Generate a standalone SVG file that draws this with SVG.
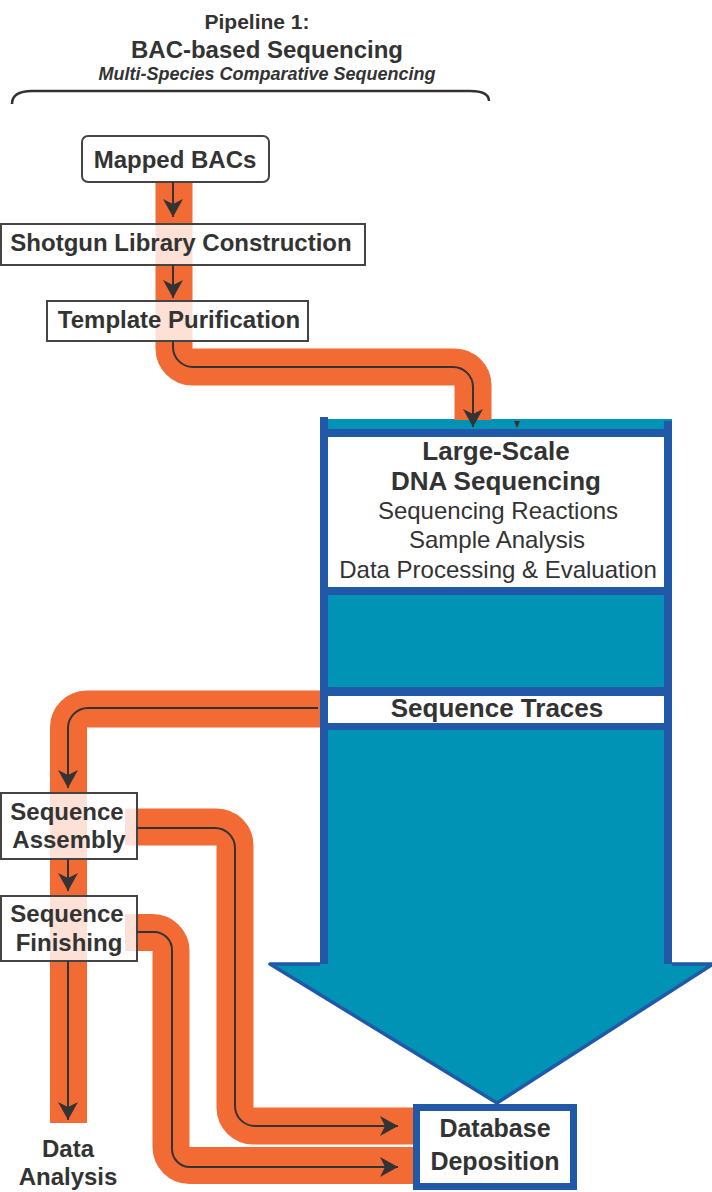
<svg xmlns="http://www.w3.org/2000/svg" width="712" height="1192" viewBox="0 0 712 1192">
<defs>
<style>
text{font-family:"Liberation Sans",Arial,sans-serif;fill:#333;text-anchor:middle}
.b{font-weight:bold}
.lbl{font-size:24px;font-weight:bold}
.reg{font-size:24px}
.box{fill:#fff;fill-opacity:0.8;stroke:#444;stroke-width:2}
.band{fill:none;stroke:#f26b35;stroke-width:37}
.ln{fill:none;stroke:#333;stroke-width:2}
.teal{fill:#0093b5}
.blue{fill:#2159a8}
</style>
<marker id="ah" viewBox="0 0 18 20" refX="18" refY="10" markerWidth="18" markerHeight="20" markerUnits="userSpaceOnUse" orient="auto">
<path d="M0,0 L18,10 L0,20 L5,10 Z" fill="#333"/>
</marker>
</defs>
<rect width="712" height="1192" fill="#fff"/>

<g id="title">
<text x="257" y="29" class="b" font-size="21">Pipeline 1:</text>
<text x="267" y="58" class="b" font-size="24">BAC-based Sequencing</text>
<text x="267" y="80" class="b" font-size="18" font-style="italic">Multi-Species Comparative Sequencing</text>
<path d="M12,104 Q12,91 32,91 L470,91 Q489,91 489,101" fill="none" stroke="#333" stroke-width="2.5"/>
</g>

<g id="large-scale-sequencing">
<polygon points="270,964 713,964 497,1103" class="teal" stroke="#2159a8" stroke-width="3.5" stroke-linejoin="round"/>
<rect x="320" y="419" width="352" height="549" class="teal"/>
<rect x="320" y="429" width="352" height="301" class="blue"/>
<rect x="328" y="595" width="336" height="92" class="teal"/>
<rect x="328" y="437" width="336" height="150" fill="#fff"/>
<rect x="328" y="696" width="336" height="27" fill="#fff"/>
<rect x="320" y="417" width="8" height="547" class="blue"/>
<rect x="664" y="421" width="8" height="543" class="blue"/>
<text x="496" y="460" class="b" font-size="26">Large-Scale</text>
<text x="496" y="490" class="b" font-size="26">DNA Sequencing</text>
<text x="498" y="519" class="reg">Sequencing Reactions</text>
<text x="497" y="548" class="reg">Sample Analysis</text>
<text x="498" y="578" class="reg">Data Processing &amp; Evaluation</text>
</g>
<g id="sequence-traces">
<text x="497" y="717" class="b" font-size="26">Sequence Traces</text>
</g>

<g id="bands">
<path class="band" d="M174,182 V348.5 A18.5,18.5 0 0 0 192.5,367 H454.5 A18.5,18.5 0 0 1 473,385.5 V420"/>
<path class="band" d="M320,709 H87 A18.5,18.5 0 0 0 68.5,727.5 V1123"/>
<path class="band" d="M125,827 H216.5 A18.5,18.5 0 0 1 235,845.5 V1107.5 A18.5,18.5 0 0 0 253.5,1126 H414"/>
<path class="band" d="M125,932.5 H152.5 A18.5,18.5 0 0 1 171,951 V1147 A18.5,18.5 0 0 0 189.5,1165.5 H414"/>
</g>

<g id="mapped-bacs">
<rect x="82" y="136" width="187" height="46" rx="6" class="box"/>
<text x="175" y="168" class="lbl">Mapped BACs</text>
</g>
<g id="shotgun-library">
<rect x="1" y="224" width="364" height="41" class="box"/>
<text x="181" y="251" class="lbl">Shotgun Library Construction</text>
</g>
<g id="template-purification">
<rect x="47" y="301" width="261" height="40" class="box"/>
<text x="179" y="328" class="lbl">Template Purification</text>
</g>
<g id="sequence-assembly">
<rect x="1" y="793" width="136" height="66" class="box"/>
<text x="67" y="820" class="lbl">Sequence</text>
<text x="69" y="848" class="lbl">Assembly</text>
</g>
<g id="sequence-finishing">
<rect x="1" y="896" width="136" height="65" class="box"/>
<text x="67" y="922" class="lbl">Sequence</text>
<text x="69" y="951" class="lbl">Finishing</text>
</g>
<g id="data-analysis">
<text x="68" y="1157" class="lbl">Data</text>
<text x="68" y="1185" class="lbl">Analysis</text>
</g>
<g id="database-deposition">
<rect x="416.5" y="1107.5" width="157" height="79" fill="#fff" stroke="#2159a8" stroke-width="7"/>
<text x="495" y="1137" class="b" font-size="25">Database</text>
<text x="495" y="1170" class="b" font-size="25">Deposition</text>
</g>

<g id="connectors">
<path class="ln" marker-end="url(#ah)" d="M173,182 V217"/>
<path class="ln" marker-end="url(#ah)" d="M173,265 V298"/>
<path class="ln" marker-end="url(#ah)" d="M173,341 V347 A20,20 0 0 0 193,367 H453 A20,20 0 0 1 473,387 V427"/>
<polygon points="514,421 520,421 517,428" fill="#333"/>
<path class="ln" marker-end="url(#ah)" d="M318,708 H88 A20,20 0 0 0 68,728 V788"/>
<path class="ln" marker-end="url(#ah)" d="M68,859 V891"/>
<path class="ln" marker-end="url(#ah)" d="M68,961 V1120"/>
<path class="ln" marker-end="url(#ah)" d="M137,828 H215 A20,20 0 0 1 235,848 V1106 A20,20 0 0 0 255,1126 H398"/>
<path class="ln" marker-end="url(#ah)" d="M137,932 H154 A18,18 0 0 1 172,950 V1149 A18,18 0 0 0 190,1167 H398"/>
</g>
</svg>
